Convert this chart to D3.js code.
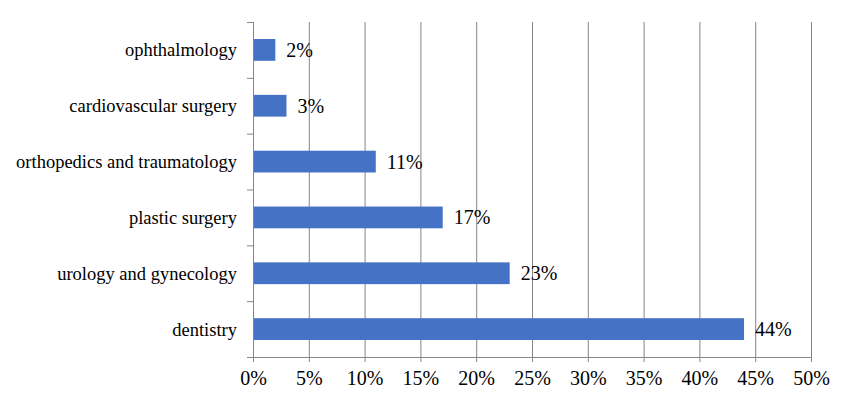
<!DOCTYPE html>
<html>
<head>
<meta charset="utf-8">
<script src="https://cdn.jsdelivr.net/npm/d3@7"></script>
<style>
  body { margin: 0; background: #fff; }
  svg { display: block; }
</style>
</head>
<body>
<svg id="chart" width="854" height="407"></svg>
<script>
// categories top to bottom
const categories = [
  'ophthalmology',
  'cardiovascular surgery',
  'orthopedics and traumatology',
  'plastic surgery',
  'urology and gynecology',
  'dentistry'
];
const shares = [2, 3, 11, 17, 23, 44];
const xTicks = [0, 5, 10, 15, 20, 25, 30, 35, 40, 45, 50];

const serif = "'Times New Roman', 'Liberation Serif', Tinos, 'DejaVu Serif', serif";

const svg = d3.select('#chart');
const margin = { top: 22, right: 43, bottom: 50, left: 253 };
const w = 854 - margin.left - margin.right;
const h = 407 - margin.top - margin.bottom;

const x = d3.scaleLinear().domain([0, 50]).range([0, w]);
const y = d3.scaleBand().domain(categories).range([0, h]).paddingInner(0.61).paddingOuter(0.305);
// band boundaries for the category ticks
const yb = d3.scaleBand().domain(categories).range([0, h]);

const g = svg.append('g').attr('transform', `translate(${margin.left},${margin.top})`);

// vertical gridlines
g.selectAll('line.grid')
  .data(xTicks.slice(1))
  .enter()
  .append('line')
  .attr('x1', (d) => x(d) + 0.5)
  .attr('x2', (d) => x(d) + 0.5)
  .attr('y1', 0)
  .attr('y2', h)
  .attr('stroke', '#868686')
  .attr('stroke-width', 1);

// bars
g.selectAll('rect')
  .data(shares)
  .enter()
  .append('rect')
  .attr('x', 0)
  .attr('y', (d, i) => y(categories[i]))
  .attr('width', (d) => x(d))
  .attr('height', y.bandwidth())
  .attr('fill', '#4472c4');

// value labels
g.selectAll('text.val')
  .data(shares)
  .enter()
  .append('text')
  .attr('class', 'val')
  .attr('x', (d) => x(d) + 11)
  .attr('y', (d, i) => y(categories[i]) + y.bandwidth() / 2)
  .attr('dy', '0.35em')
  .attr('font-family', serif)
  .attr('font-size', 20)
  .attr('fill', '#000')
  .text((d) => d + '%');

// x axis
const xAxis = g.append('g')
  .attr('transform', `translate(0,${h})`)
  .call(d3.axisBottom(x).tickValues(xTicks).tickFormat((d) => d + '%').tickSize(5).tickSizeOuter(0));
xAxis.attr('font-family', serif).attr('font-size', 20);
xAxis.select('.domain').attr('stroke', '#868686');
xAxis.selectAll('.tick line').attr('stroke', '#868686');
xAxis.selectAll('.tick text').attr('fill', '#000').attr('dy', '1.0em');

// y axis line with ticks at band edges
const yAxis = g.append('g');
yAxis.append('line')
  .attr('x1', 0.5).attr('x2', 0.5)
  .attr('y1', 0).attr('y2', h)
  .attr('stroke', '#868686');
yAxis.selectAll('line.tk')
  .data(categories.concat(['end']))
  .enter()
  .append('line')
  .attr('x1', -6).attr('x2', 0)
  .attr('y1', (d, i) => (i < categories.length ? yb(d) : h) + 0.5)
  .attr('y2', (d, i) => (i < categories.length ? yb(d) : h) + 0.5)
  .attr('stroke', '#868686');

// category labels
yAxis.selectAll('text')
  .data(categories)
  .enter()
  .append('text')
  .attr('x', -16)
  .attr('y', (d) => yb(d) + yb.bandwidth() / 2)
  .attr('dy', '0.35em')
  .attr('text-anchor', 'end')
  .attr('font-family', serif)
  .attr('font-size', 18.5)
  .attr('fill', '#000')
  .text((d) => d);
</script>
</body>
</html>
